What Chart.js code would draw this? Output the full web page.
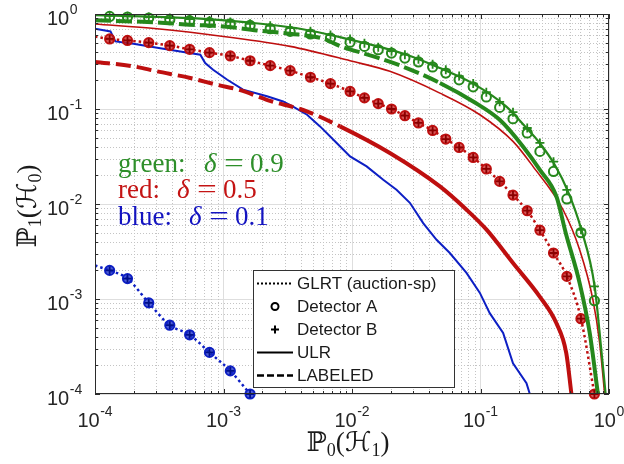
<!DOCTYPE html>
<html><head><meta charset="utf-8">
<script src="https://cdn.jsdelivr.net/npm/chart.js@4/dist/chart.umd.min.js"></script>
<style>html,body{margin:0;padding:0;background:#fff}canvas{display:block}</style>
</head><body>
<canvas id="c" width="624" height="464"></canvas>
<script>
// ---------- data ----------
const tickValues = [1e-4, 1e-3, 1e-2, 1e-1, 1];
const tickExponents = ['-4', '-3', '-2', '-1', '0'];
const legendLabels = ['GLRT (auction-sp)', 'Detector A', 'Detector B', 'ULR', 'LABELED'];
const deltaLabels = ['green:', 'red:', 'blue:'];
const deltaValues = ['0.9', '0.5', '0.1'];

// common marker abscissae (detectors / GLRT)
const markerX = [1.30e-4, 1.79e-4, 2.62e-4, 3.82e-4, 5.45e-4, 7.78e-4, 1.13e-3, 1.61e-3, 2.31e-3, 3.30e-3,
  4.75e-3, 6.80e-3, 9.66e-3, 1.25e-2, 1.60e-2, 2.03e-2, 2.58e-2, 3.29e-2, 4.24e-2, 5.37e-2,
  6.82e-2, 8.77e-2, 0.111, 0.141, 0.179, 0.231, 0.290, 0.370, 0.470, 0.605, 0.770];

// green (delta = 0.9)
const greenDetA = [0.943, 0.930, 0.908, 0.871, 0.850, 0.816, 0.790, 0.759, 0.700, 0.656,
  0.616, 0.559, 0.505, 0.456, 0.421, 0.388, 0.344, 0.313, 0.277, 0.239,
  0.203, 0.171, 0.134, 0.104, 0.079, 0.0559, 0.0358, 0.0220, 0.0113, 0.00499, 9.6e-4];
const greenDetB = [0.955, 0.945, 0.930, 0.905, 0.885, 0.855, 0.825, 0.790, 0.750, 0.710,
  0.660, 0.600, 0.545, 0.493, 0.447, 0.406, 0.373, 0.334, 0.296, 0.259,
  0.222, 0.185, 0.150, 0.119, 0.0925, 0.0631, 0.0439, 0.0279, 0.0141, 0.00536, 0.00136];
const greenUlrX = [1e-4, 2.69e-4, 6.59e-4, 1.61e-3, 3.94e-3, 8.07e-3, 2.66e-2, 4.83e-2, 8.77e-2,
  0.159, 0.228, 0.289, 0.378, 0.479, 0.610, 0.773, 0.871, 0.941];
const greenUlrY = [0.971, 0.937, 0.892, 0.810, 0.700, 0.570, 0.373, 0.270, 0.185,
  0.106, 0.063, 0.0439, 0.0259, 0.0136, 0.00536, 0.00136, 2.92e-4, 1.0e-4];
const greenLabX = [1e-4, 3.04e-4, 5.51e-4, 1e-3, 1.82e-3, 3.30e-3, 5.98e-3, 8.07e-3, 1.47e-2, 2.66e-2,
  4.83e-2, 8.77e-2, 0.141, 0.214, 0.289, 0.390, 0.460, 0.591, 0.708, 0.820];
const greenLabY = [0.858, 0.816, 0.771, 0.740, 0.672, 0.621, 0.550, 0.460, 0.358, 0.270,
  0.188, 0.120, 0.077, 0.0404, 0.0230, 0.0120, 0.00499, 0.00147, 4.39e-4, 1.0e-4];

// red (delta = 0.5)
const redGlrtStartY = 0.58;
const redDet = [0.546, 0.527, 0.500, 0.465, 0.425, 0.392, 0.362, 0.322, 0.286, 0.253,
  0.216, 0.185, 0.153, 0.131, 0.114, 0.100, 0.085, 0.0713, 0.0595, 0.0483,
  0.0394, 0.0309, 0.0234, 0.0173, 0.0124, 0.0085, 0.0053, 0.00305, 0.00173, 6.2e-4, 1.0e-4];
const redUlrX = [1e-4, 3.04e-4, 1e-3, 3.3e-3, 9.66e-3, 1.97e-2, 4.83e-2, 9.89e-2, 0.179, 0.256,
  0.439, 0.591, 0.750, 0.845, 0.925];
const redUlrY = [0.785, 0.700, 0.580, 0.456, 0.322, 0.249, 0.147, 0.087, 0.0456, 0.0249,
  0.0087, 0.0033, 9.8e-4, 3.5e-4, 1.0e-4];
const redLabX = [1e-4, 2.0e-4, 3.04e-4, 5.51e-4, 8.9e-4, 1.35e-3, 2.17e-3, 4.45e-3, 8.07e-3, 1.97e-2,
  4.83e-2, 7.79e-2, 0.111, 0.179, 0.289, 0.389, 0.465, 0.510];
const redLabY = [0.313, 0.281, 0.249, 0.212, 0.180, 0.158, 0.125, 0.0944, 0.0656, 0.0344,
  0.0153, 0.0087, 0.0054, 0.00239, 0.00106, 5.58e-4, 2.7e-4, 1.0e-4];

// blue (delta = 0.1)
const blueGlrtStartY = 2.25e-3;
const blueDet = [2.0e-3, 1.64e-3, 9.1e-4, 5.3e-4, 4.2e-4, 2.74e-4, 1.75e-4, 1.0e-4];
const blueUlrX = [1e-4, 1.32e-4, 1.44e-4, 1.99e-4, 3.05e-4, 4.61e-4, 6.6e-4, 7.2e-4, 8.3e-4, 1.07e-3,
  1.42e-3, 2.18e-3, 2.91e-3, 3.48e-3, 4.47e-3, 5.64e-3, 7.6e-3, 9.66e-3, 1.30e-2, 1.75e-2,
  2.22e-2, 2.82e-2, 3.58e-2, 4.55e-2, 5.77e-2, 7.78e-2, 9.89e-2, 0.118, 0.150, 0.179, 0.228, 0.242];
const blueUlrY = [0.700, 0.656, 0.515, 0.487, 0.442, 0.404, 0.373, 0.305, 0.259, 0.203,
  0.160, 0.136, 0.120, 0.106, 0.087, 0.0656, 0.0439, 0.0317, 0.0249, 0.0180,
  0.0141, 0.0103, 0.0063, 0.0042, 0.00305, 0.00188, 0.00116, 7.1e-4, 4.4e-4, 2.1e-4, 1.3e-4, 1.0e-4];

// ---------- styles ----------
const G = '#26881c', R = '#be0f0f', B = '#0d1fc4';
const GT = '#2e8f2a', RT = '#c41414', BT = '#1414c0';

function pts(xs, ys) { return ys.map((y, i) => ({ x: xs[i], y })); }
const blueX = markerX.slice(0, blueDet.length);

function lineDs(data, color, width, extra) {
  return Object.assign({ data, borderColor: color, borderWidth: width, pointRadius: 0,
    fill: false, cubicInterpolationMode: 'monotone' }, extra || {});
}
function circleDs(data, color, bg, skipFirst) {
  return { data, showLine: false, pointStyle: 'circle', borderColor: color,
    pointBorderColor: color, pointBackgroundColor: bg, pointBorderWidth: 2,
    pointRadius: skipFirst ? (c => c.dataIndex === 0 ? 0 : 4.6) : 4.6, clip: false };
}
function crossDs(data, color, skipFirst) {
  return { data, showLine: false, pointStyle: 'cross', borderColor: color,
    pointBorderColor: color, pointBorderWidth: 1.8,
    pointRadius: skipFirst ? (c => c.dataIndex === 0 ? 0 : 4) : 4.5, clip: false };
}

const redGlrt = [{ x: tickValues[0], y: redGlrtStartY }].concat(pts(markerX, redDet));
const blueGlrt = [{ x: tickValues[0], y: blueGlrtStartY }].concat(pts(blueX, blueDet));

const datasets = [
  crossDs(pts(markerX, greenDetB), G),
  circleDs(pts(markerX, greenDetA), G, 'rgba(0,0,0,0)'),
  lineDs(pts(greenUlrX, greenUlrY), G, 2.2),
  lineDs(pts(greenLabX, greenLabY), G, 4, {
    segment: { borderDash: c => c.p0.parsed.x < 0.03 ? [16, 5] : [] } }),
  crossDs(redGlrt, '#8a0000', true),
  circleDs(redGlrt, R, 'rgba(200,30,30,0.75)', true),
  lineDs(redGlrt, R, 2.5, { borderDash: [2.5, 3] }),
  lineDs(pts(redUlrX, redUlrY), R, 1.6),
  lineDs(pts(redLabX, redLabY), R, 4, {
    segment: { borderDash: c => c.p0.parsed.x < 0.008 ? [15, 6] : [] } }),
  crossDs(blueGlrt, '#00108a', true),
  circleDs(blueGlrt, B, 'rgba(20,40,200,0.75)', true),
  lineDs(blueGlrt, B, 2.5, { borderDash: [2.5, 3] }),
  lineDs(pts(blueUlrX, blueUlrY), B, 2, { cubicInterpolationMode: 'default', tension: 0 })
];

// ---------- decorations plugin ----------
const SANS = '"Liberation Sans", Arial, sans-serif';
const SERIF = '"Liberation Serif", "DejaVu Serif", "DejaVu Sans", serif';

function drawParts(ctx, parts, x, baseY) {
  for (const p of parts) {
    ctx.font = p.font;
    if (p.dx) x += p.dx;
    ctx.fillText(p.t, x, baseY + (p.dy || 0));
    x += ctx.measureText(p.t).width;
  }
}
function partsWidth(ctx, parts) {
  let w = 0;
  for (const p of parts) { ctx.font = p.font; w += (p.dx || 0) + ctx.measureText(p.t).width; }
  return w;
}

const deco = {
  id: 'deco',
  beforeDatasetsDraw(chart) {
    const { ctx, chartArea: a, scales: { x, y } } = chart;
    ctx.save();
    ctx.strokeStyle = '#c4c4c4';
    ctx.lineWidth = 1;
    ctx.setLineDash([1, 2]);
    for (let d = -4; d < 0; d++) {
      for (let m = 2; m <= 9; m++) {
        const v = m * Math.pow(10, d);
        const px = Math.round(x.getPixelForValue(v)) + 0.5;
        ctx.beginPath(); ctx.moveTo(px, a.top); ctx.lineTo(px, a.bottom); ctx.stroke();
        const py = Math.round(y.getPixelForValue(v)) + 0.5;
        ctx.beginPath(); ctx.moveTo(a.left, py); ctx.lineTo(a.right, py); ctx.stroke();
      }
    }
    ctx.restore();
  },
  afterDatasetsDraw(chart) {
    const { ctx, chartArea: a, scales: { x, y } } = chart;
    ctx.save();
    // box
    ctx.strokeStyle = '#2b2b2b';
    ctx.lineWidth = 1;
    ctx.setLineDash([]);
    ctx.strokeRect(Math.round(a.left) + 0.5, Math.round(a.top) + 0.5,
      Math.round(a.right - a.left) - 1, Math.round(a.bottom - a.top) - 1);
    // tick marks (inside, all 4 sides)
    ctx.beginPath();
    for (let d = -4; d <= 0; d++) {
      for (let m = 1; m <= (d === 0 ? 1 : 9); m++) {
        const v = m * Math.pow(10, d);
        const len = m === 1 ? 5 : 3;
        const px = Math.round(x.getPixelForValue(v)) + 0.5;
        ctx.moveTo(px, a.bottom); ctx.lineTo(px, a.bottom - len);
        ctx.moveTo(px, a.top); ctx.lineTo(px, a.top + len);
        const py = Math.round(y.getPixelForValue(v)) + 0.5;
        ctx.moveTo(a.left, py); ctx.lineTo(a.left + len, py);
        ctx.moveTo(a.right, py); ctx.lineTo(a.right - len, py);
      }
    }
    ctx.stroke();

    // tick labels
    ctx.fillStyle = '#262626';
    ctx.textAlign = 'left';
    ctx.textBaseline = 'alphabetic';
    tickValues.forEach((v, i) => {
      const parts = [{ t: '10', font: '20px ' + SANS },
                     { t: tickExponents[i], font: '14px ' + SANS, dy: -11, dx: 0.5 }];
      const py = y.getPixelForValue(v);
      drawParts(ctx, parts, 47, py + 11);
      const px = x.getPixelForValue(v);
      const w = partsWidth(ctx, parts);
      drawParts(ctx, parts, px - w / 2, 427);
    });

    // axis titles
    ctx.fillStyle = '#1a1a1a';
    const xt = [{ t: '\u2119', font: '27px ' + SERIF }, { t: '0', font: '18px ' + SERIF, dy: 5 },
                { t: '(\u210B', font: '27px ' + SERIF }, { t: '1', font: '18px ' + SERIF, dy: 5 },
                { t: ')', font: '27px ' + SERIF }];
    const xw = partsWidth(ctx, xt);
    drawParts(ctx, xt, 348 - xw / 2, 451);
    const yt = [{ t: '\u2119', font: '27px ' + SERIF }, { t: '1', font: '18px ' + SERIF, dy: 5 },
                { t: '(\u210B', font: '27px ' + SERIF }, { t: '0', font: '18px ' + SERIF, dy: 5 },
                { t: ')', font: '27px ' + SERIF }];
    const yw = partsWidth(ctx, yt);
    ctx.save();
    ctx.translate(36, 206);
    ctx.rotate(-Math.PI / 2);
    drawParts(ctx, yt, -yw / 2, 0);
    ctx.restore();

    // delta annotations
    const annCols = [GT, RT, BT];
    const annBase = [171.7, 198.3, 225];
    const annDeltaX = [204, 177, 189];
    deltaLabels.forEach((lab, i) => {
      ctx.fillStyle = annCols[i];
      ctx.font = '27px ' + SERIF;
      ctx.fillText(lab, 118, annBase[i]);
      ctx.font = 'italic 27px ' + SERIF;
      ctx.fillText('\u03B4', annDeltaX[i], annBase[i]);
      ctx.font = '27px ' + SERIF;
      const eqX = annDeltaX[i] + 20;
      ctx.save();
      ctx.translate(eqX, annBase[i]);
      ctx.scale(1.3, 1);
      ctx.fillText('=', 0, 0);
      ctx.restore();
      ctx.fillText(deltaValues[i], eqX + 26, annBase[i]);
    });

    // legend
    const lx = 253.5, ly = 270.5, lw = 201, lh = 117;
    ctx.fillStyle = '#ffffff';
    ctx.fillRect(lx, ly, lw, lh);
    ctx.strokeStyle = '#333';
    ctx.lineWidth = 1;
    ctx.strokeRect(lx, ly, lw, lh);
    const rows = [283.5, 306.5, 329.5, 352.5, 375.5];
    ctx.strokeStyle = '#000';
    ctx.fillStyle = '#1a1a1a';
    ctx.font = '17px ' + SANS;
    ctx.textBaseline = 'middle';
    rows.forEach((ry, i) => {
      ctx.lineWidth = 2;
      ctx.setLineDash([]);
      if (i === 0) {
        ctx.setLineDash([2, 2]);
        ctx.beginPath(); ctx.moveTo(257, ry); ctx.lineTo(293, ry); ctx.stroke();
      } else if (i === 1) {
        ctx.beginPath(); ctx.arc(275, ry, 3.5, 0, Math.PI * 2); ctx.stroke();
      } else if (i === 2) {
        ctx.beginPath(); ctx.moveTo(271, ry); ctx.lineTo(279, ry);
        ctx.moveTo(275, ry - 4); ctx.lineTo(275, ry + 4); ctx.stroke();
      } else if (i === 3) {
        ctx.beginPath(); ctx.moveTo(257, ry); ctx.lineTo(293, ry); ctx.stroke();
      } else {
        ctx.lineWidth = 2.5;
        ctx.setLineDash([7, 3]);
        ctx.beginPath(); ctx.moveTo(257, ry); ctx.lineTo(293, ry); ctx.stroke();
      }
      ctx.setLineDash([]);
      ctx.fillText(legendLabels[i], 297, ry + 1);
    });
    ctx.restore();
  }
};

new Chart(document.getElementById('c'), {
  type: 'line',
  data: { datasets },
  options: {
    responsive: false,
    animation: false,
    devicePixelRatio: 1,
    parsing: true,
    layout: { padding: { left: 95, right: 15, top: 14, bottom: 70 } },
    plugins: { legend: { display: false }, tooltip: { enabled: false } },
    scales: {
      x: {
        type: 'logarithmic', min: tickValues[0], max: tickValues[tickValues.length - 1],
        afterBuildTicks: s => { s.ticks = tickValues.map(v => ({ value: v })); },
        afterFit: s => { s.height = 0; },
        ticks: { display: false },
        grid: { color: '#dedede', lineWidth: 1, drawTicks: false },
        border: { display: false }
      },
      y: {
        type: 'logarithmic', min: tickValues[0], max: tickValues[tickValues.length - 1],
        afterBuildTicks: s => { s.ticks = tickValues.map(v => ({ value: v })); },
        afterFit: s => { s.width = 0; },
        ticks: { display: false },
        grid: { color: '#dedede', lineWidth: 1, drawTicks: false },
        border: { display: false }
      }
    }
  },
  plugins: [deco]
});
</script>
</body></html>
